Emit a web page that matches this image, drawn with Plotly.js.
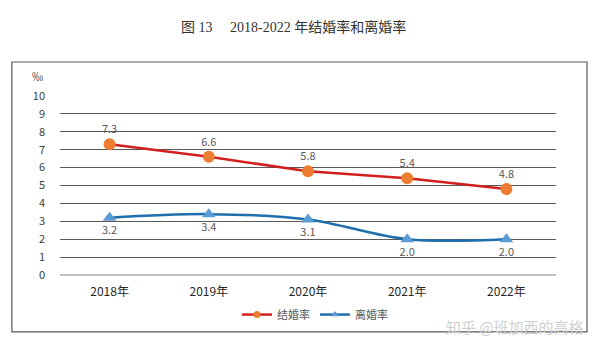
<!DOCTYPE html>
<html><head><meta charset="utf-8">
<script src="https://cdn.plot.ly/plotly-3.0.1.min.js"></script>
<style>body{margin:0;background:#fff}#c{width:601px;height:352px}</style>
</head><body><div id="c"></div>
<script>
const years = ['2018年','2019年','2020年','2021年','2022年'];
const marriage = [7.3, 6.6, 5.8, 5.4, 4.8];
const divorce = [3.2, 3.4, 3.1, 2.0, 2.0];
const marriageLabels = ['7.3','6.6','5.8','5.4','4.8'];
const divorceLabels = ['3.2','3.4','3.1','2.0','2.0'];
const yTicks = [0,1,2,3,4,5,6,7,8,9,10];

const cjk = '"Noto Sans CJK SC", "Noto Sans", sans-serif';
const mColor = {line: '#d21f1f', marker: '#ed7d31'};
const dColor = {line: '#1f6fad', marker: '#5b9bd5'};
const traces = [
  {x: years, y: marriage, name: '结婚率', type: 'scatter', mode: 'lines+markers+text', showlegend: false,
   line: {color: mColor.line, width: 2.5}, marker: {color: mColor.marker, size: 12, symbol: 'circle'},
   text: marriageLabels, textposition: 'top center', textfont: {color: '#595959', size: 11, family: cjk}},
  {x: years, y: divorce, name: '离婚率', type: 'scatter', mode: 'lines+markers+text', showlegend: false,
   line: {color: dColor.line, width: 2.5, shape: 'spline'}, marker: {color: dColor.marker, size: 12, symbol: 'triangle-up'},
   text: divorceLabels, textposition: 'bottom center', textfont: {color: '#595959', size: 11, family: cjk}},
  {x: [null], y: [null], name: '结婚率', type: 'scatter', mode: 'lines+markers', showlegend: true,
   line: {color: mColor.line, width: 2.5}, marker: {color: mColor.marker, size: 7, symbol: 'circle'}},
  {x: [null], y: [null], name: '离婚率', type: 'scatter', mode: 'lines+markers', showlegend: true,
   line: {color: dColor.line, width: 2.5}, marker: {color: dColor.marker, size: 7, symbol: 'triangle-up'}}
];
const layout = {
  width: 601, height: 352,
  margin: {l: 60, r: 45, t: 96, b: 77},
  paper_bgcolor: '#fff', plot_bgcolor: '#fff',
  showlegend: true,
  legend: {orientation: 'h', x: 0.514, xanchor: 'center', y: -0.14, yanchor: 'top',
    font: {size: 11, color: '#595959', family: cjk}, itemwidth: 30, tracegroupgap: 0},
  xaxis: {type: 'category', range: [-0.5, 4.5], showgrid: false, zeroline: false, showline: false, ticks: '',
    ticklabelstandoff: 8, tickfont: {size: 12, color: '#262626', family: cjk}, fixedrange: true},
  yaxis: {range: [0, 10], tickvals: yTicks, ticktext: yTicks.map(String), showgrid: true,
    gridcolor: '#595959', gridwidth: 1, zeroline: true, zerolinecolor: '#bfbfbf', zerolinewidth: 2,
    showline: false, ticks: '', ticklen: 0, ticklabelstandoff: 14,
    tickfont: {size: 11, color: '#404040', family: cjk}, fixedrange: true},
  shapes: [{type: 'rect', xref: 'paper', yref: 'paper', x0: -0.097, x1: 1.0625, y0: -0.318, y1: 1.19,
    line: {color: '#595959', width: 1.2}}],
  annotations: [
    {text: '图 13　 2018-2022 年结婚率和离婚率', xref: 'paper', yref: 'paper', x: 0.47, y: 1.385,
     xanchor: 'center', yanchor: 'middle', showarrow: false,
     font: {size: 14, color: '#333', family: '"Liberation Serif", "Noto Sans CJK SC", serif'}},
    {text: '‰', xref: 'paper', yref: 'paper', x: -0.03, y: 1.11, xanchor: 'right', yanchor: 'middle',
     showarrow: false, font: {size: 11, color: '#404040', family: cjk}},
    {text: '知乎 @班加西的高格', xref: 'paper', yref: 'paper', x: 1.06, y: -0.285, xanchor: 'right', yanchor: 'middle',
     showarrow: false, font: {size: 15, color: '#d0d0d0', family: cjk}}
  ]
};
Plotly.newPlot('c', traces, layout, {displayModeBar: false, staticPlot: true});
</script></body></html>
